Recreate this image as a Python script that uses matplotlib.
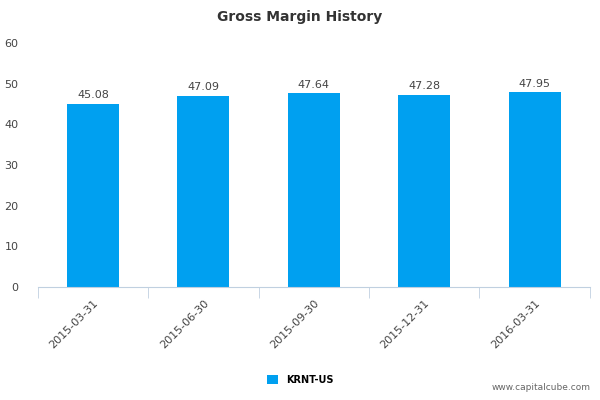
import matplotlib
matplotlib.use("Agg")
import matplotlib.pyplot as plt
import numpy as np

categories = ["2015-03-31", "2015-06-30", "2015-09-30", "2015-12-31", "2016-03-31"]
values = [45.08, 47.09, 47.64, 47.28, 47.95]
series_name = "KRNT-US"

fig = plt.figure(figsize=(6, 4), dpi=100)
ax = fig.add_axes([0.063, 0.2825, 0.92, 0.61])
x = np.arange(len(categories))
bars = ax.bar(x, values, width=0.47, color="#00a0f0", label=series_name, zorder=2)
for xi, v in zip(x, values):
    ax.text(xi, v + 0.8, f"{v:.2f}", ha="center", va="bottom", fontsize=8, color="#444444")

ax.set_xlim(-0.5, len(categories) - 0.5)
ax.set_ylim(0, 60)
ax.set_yticks(range(0, 61, 10))
ax.tick_params(axis="y", length=0, labelsize=8, labelcolor="#444444", pad=14)
ax.set_xticks(x)
ax.set_xticklabels(categories, rotation=45, ha="right", rotation_mode="anchor", fontsize=8, color="#444444")
ax.tick_params(axis="x", length=0, pad=8)
ax.set_xticks(np.arange(-0.5, len(categories), 1), minor=True)
ax.tick_params(axis="x", which="minor", length=8, color="#c0d0e0")
for s in ["top", "right", "left"]:
    ax.spines[s].set_visible(False)
ax.spines["bottom"].set_color("#c0d0e0")

fig.suptitle("Gross Margin History", y=0.975, fontsize=10, fontweight="bold", color="#333333")
fig.legend(handles=[bars], labels=[series_name], loc="center", bbox_to_anchor=(0.5, 0.05),
           frameon=False, fontsize=7, handlelength=1.2, handleheight=1.0,
           prop={"weight": "bold", "size": 7})
fig.text(0.985, 0.02, "www.capitalcube.com", ha="right", va="bottom", fontsize=6.5, color="#666666")
fig.savefig("out.png", dpi=100)
